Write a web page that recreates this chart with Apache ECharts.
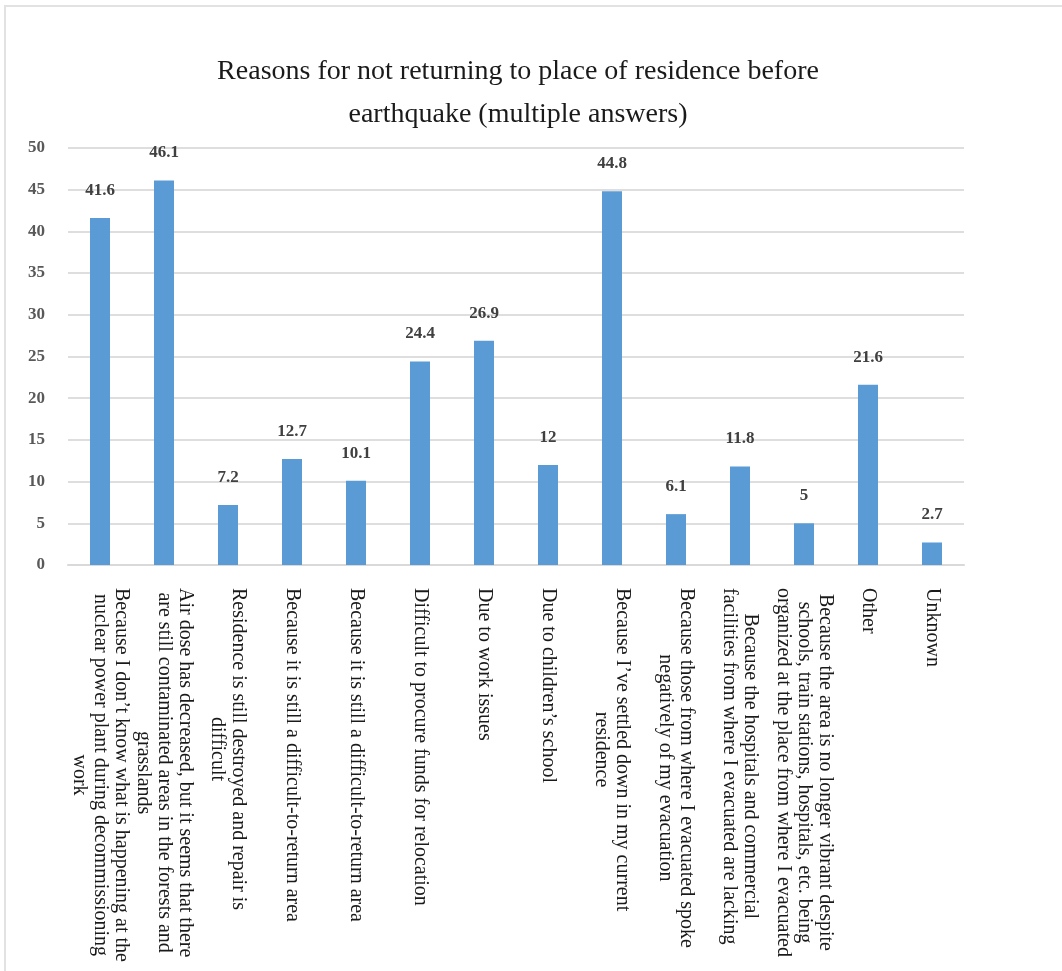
<!DOCTYPE html>
<html lang="en">
<head>
    <meta charset="UTF-8">
    <title>Reasons for not returning</title>
    <script src="https://cdn.jsdelivr.net/npm/echarts@6/dist/echarts.min.js"></script>
    <style>
        body { margin: 0; background: #fff; }
        #main { position: absolute; left: 0; top: 0; width: 1062px; height: 971px; }
        #frame {
            position: absolute; left: 4px; top: 5px; width: 1058px; height: 966px;
            border-top: 2px solid #e2e2e2; border-left: 2px solid #e2e2e2;
            pointer-events: none;
        }
    </style>
</head>
<body>
<div id="main"></div>
<div id="frame"></div>
<script>
    // categories (explicit line breaks as in the original chart)
    let categories = [
        'Because I don’t know what is happening at the\nnuclear power plant during decommissioning\nwork',
        'Air dose has decreased, but it seems that there\nare still contaminated areas in the forests and\ngrasslands',
        'Residence is still destroyed and repair is\ndifficult',
        'Because it is still a difficult-to-return area',
        'Because it is still a difficult-to-return area',
        'Difficult to procure funds for relocation',
        'Due to work issues',
        'Due to children’s school',
        'Because I’ve settled down in my current\nresidence',
        'Because those from where I evacuated spoke\nnegatively of my evacuation',
        'Because the hospitals and commercial\nfacilities from where I evacuated are lacking',
        'Because the area is no longer vibrant despite\nschools, train stations, hospitals, etc. being\norganized at the place from where I evacuated',
        'Other',
        'Unknown'
    ];
    let values = [41.6, 46.1, 7.2, 12.7, 10.1, 24.4, 26.9, 12, 44.8, 6.1, 11.8, 5, 21.6, 2.7];
    let yTicks = [0, 5, 10, 15, 20, 25, 30, 35, 40, 45, 50];

    const serif = '"Liberation Serif", "Times New Roman", serif';

    let myChart = echarts.init(document.getElementById('main'));
    let option = {
        backgroundColor: '#fff',
        animation: false,
        title: {
            text: 'Reasons for not returning to place of residence before\nearthquake (multiple answers)',
            left: 513,
            top: 45,
            textAlign: 'center',
            textStyle: {
                fontFamily: serif,
                fontWeight: 'normal',
                fontSize: 28,
                lineHeight: 43,
                color: '#1a1a1a'
            }
        },
        grid: {
            left: 68,
            right: 98,
            top: 148,
            bottom: 406
        },
        xAxis: {
            type: 'category',
            data: categories,
            axisTick: { show: false },
            axisLine: { lineStyle: { color: '#d9d9d9', width: 2 } },
            axisLabel: {
                interval: 0,
                rotate: -90,
                margin: 23,
                // centre each line inside the label block
                formatter: function (v) {
                    return v.split('\n').map(l => '{c|' + l + '}').join('\n');
                },
                rich: {
                    c: {
                        align: 'center',
                        fontFamily: serif,
                        fontSize: 20,
                        lineHeight: 21,
                        color: '#1a1a1a'
                    }
                }
            }
        },
        yAxis: {
            type: 'value',
            min: yTicks[0],
            max: yTicks[yTicks.length - 1],
            interval: 5,
            axisLine: { show: false },
            axisTick: { show: false },
            splitLine: { lineStyle: { color: '#dedede', width: 2 } },
            axisLabel: {
                margin: 23,
                fontFamily: serif,
                fontWeight: 'bold',
                fontSize: 17,
                color: '#595959'
            }
        },
        series: [
            {
                type: 'bar',
                data: values,
                barWidth: 20,
                itemStyle: { color: '#5b9bd5' },
                label: {
                    show: true,
                    position: 'top',
                    distance: 19,
                    fontFamily: serif,
                    fontWeight: 'bold',
                    fontSize: 17,
                    color: '#404040'
                }
            }
        ]
    };
    myChart.setOption(option);
</script>
</body>
</html>
